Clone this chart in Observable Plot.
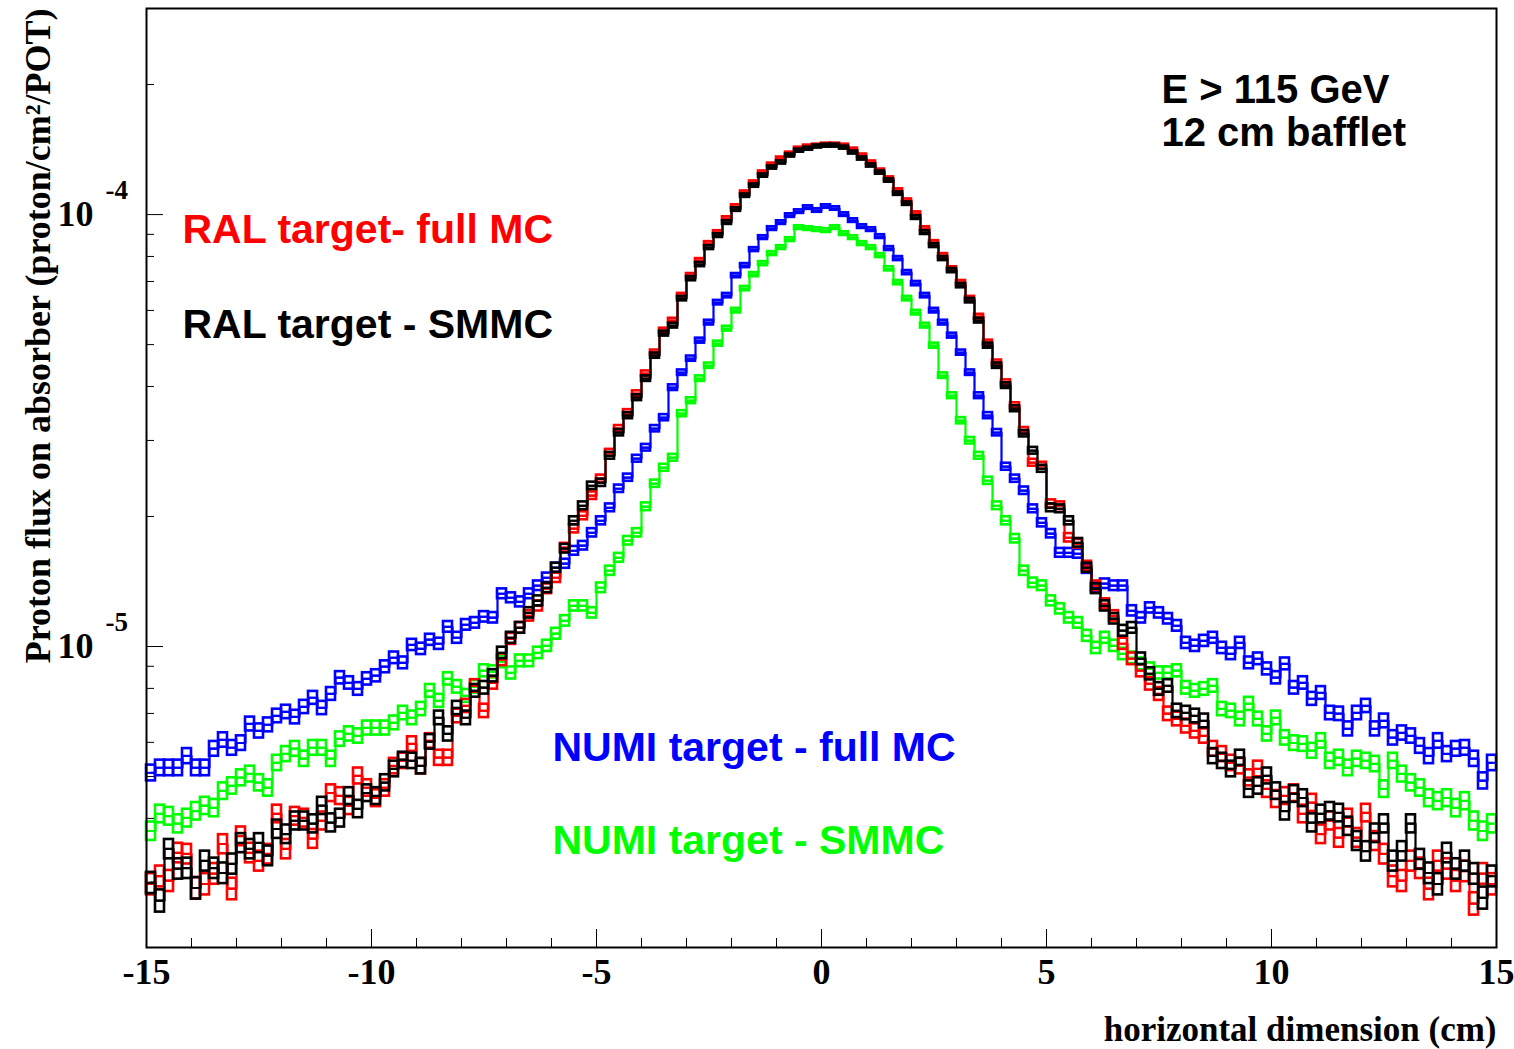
<!DOCTYPE html>
<html>
<head>
<meta charset="utf-8">
<script src="https://cdn.jsdelivr.net/npm/d3@7"></script>
<script src="https://cdn.jsdelivr.net/npm/@observablehq/plot@0.6"></script>
<style>
  html, body { margin: 0; padding: 0; background: #ffffff; }
  #chart { width: 1514px; height: 1049px; }
</style>
</head>
<body>
<div id="chart"></div>
<script>
// ---- Data (flux in units of 1e-6 proton/cm^2/POT), 150 bins of 0.2 cm from -15 to 15 cm ----
const fluxUnit = 1e-6;
const xMin = -15;
const binWidth = 0.2;

const ralFullMC = [
  2.82, 2.94, 2.87, 3.33, 3.31, 2.76, 2.82, 2.98, 3.49, 2.75, 3.64, 3.33, 3.19, 3.31, 4.10, 3.40, 4.05, 4.01, 3.59, 3.95,
  4.58, 4.51, 4.28, 5.02, 4.71, 4.46, 4.71, 5.29, 5.44, 5.95, 5.29, 6.05, 5.53, 5.53, 6.91, 7.29, 8.11, 7.10, 8.24, 9.32,
  10.42, 11.05,
  11.78, 12.42, 13.61, 14.43, 16.94, 18.74, 20.08, 22.35, 24.47, 28.10, 31.94, 34.79, 38.49, 42.83, 47.91, 53.87, 56.82, 64.93,
  72.23, 78.25, 85.68, 90.85, 97.9, 104.4, 112.4, 118.6, 125.1, 130.5, 134.8, 138.4, 142.1, 143.7, 144.4, 145.2, 145.2, 144.4,
  141.4, 137.0, 132.0, 126.4, 121.2, 113.7, 107.7, 100.5, 92.81, 86.14, 80.37, 74.9, 69.58, 63.90, 58.04, 50.53, 45.41, 40.82,
  36.10, 31.60, 26.64, 26.22, 21.41, 21.18, 17.86, 17.30, 15.38, 13.83, 12.56, 11.78, 10.15, 9.37, 8.79, 8.20, 7.77, 6.99,
  6.80, 6.55, 6.38, 6.21, 5.80, 5.64, 5.38, 5.29, 4.97, 5.21, 4.68, 4.44, 4.51, 4.58, 4.10, 4.35, 3.68, 3.95, 3.61, 4.01,
  3.61, 4.12, 3.55, 3.31, 2.94, 2.87, 3.19, 3.07, 2.75, 3.19, 3.06, 2.87, 3.02, 2.54, 2.98, 2.82
];

const ralSMMC = [
  2.84, 2.58, 3.40, 3.06, 3.07, 2.76, 3.19, 3.07, 2.99, 3.14, 3.51, 3.40, 3.51, 3.28, 3.78, 3.68, 3.95, 3.95, 3.89, 4.28,
  3.91, 4.01, 4.51, 4.21, 4.58, 4.51, 4.84, 5.21, 5.47, 5.44, 5.29, 6.02, 6.84, 6.28, 7.21, 6.84, 7.90, 8.03, 8.56, 9.67,
  10.48, 11.05,
  11.97, 12.76, 13.68, 15.22, 16.85, 19.55, 21.18, 23.56, 23.94, 27.65, 31.27, 34.24, 37.68, 41.71, 47.15, 53.02, 55.33, 63.90,
  71.08, 76.60, 83.87, 89.41, 95.82, 102.7, 110.6, 116.7, 123.1, 128.5, 132.0, 137.0, 140.6, 142.1, 143.7, 144.4, 144.4, 142.9,
  139.2, 134.8, 129.9, 125.1, 119.9, 111.8, 106.0, 98.4, 90.85, 84.77, 79.10, 74.18, 68.48, 63.21, 56.82, 49.73, 44.69, 40.18,
  35.53, 31.10, 28.40, 25.80, 20.95, 20.84, 19.55, 17.39, 15.22, 13.61, 12.42, 11.60, 10.88, 11.05, 9.37, 8.65, 7.98, 8.11,
  7.10, 7.02, 6.91, 6.73, 5.58, 5.44, 5.21, 5.53, 4.68, 4.76, 5.02, 4.63, 4.16, 4.56, 4.46, 3.91, 4.10, 4.16, 4.12, 3.84,
  3.55, 3.36, 3.70, 3.89, 3.19, 3.36, 3.89, 3.22, 2.99, 2.82, 3.33, 3.06, 3.19, 2.98, 2.62, 2.94
];

const numiFullMC = [
  5.10, 5.24, 5.24, 5.24, 5.58, 5.24, 5.24, 5.80, 6.08, 5.83, 5.98, 6.62, 6.38, 6.59, 6.91, 7.06, 6.87, 7.25, 7.61, 7.21,
  7.77, 8.47, 8.24, 7.98, 8.42, 8.56, 8.98, 9.42, 9.17, 10.09, 9.88, 10.37, 10.15, 11.11, 10.48, 11.23, 11.35, 11.72, 11.66, 13.25,
  12.97, 12.69,
  13.25, 13.83, 14.43, 15.22, 15.55, 16.66, 17.12, 18.34, 19.55, 20.95, 23.19, 24.60, 27.22, 28.86, 31.94, 33.87, 39.75, 43.06,
  46.40, 51.07, 56.22, 62.54, 64.93, 72.23, 76.19, 82.98, 88.46, 92.81, 95.82, 99.47, 101.6, 103.8, 102.2, 104.4, 103.3, 100.0,
  96.85, 93.80, 92.32, 88.93, 83.43, 79.10, 73.39, 69.22, 64.93, 59.93, 56.22, 52.45, 47.91, 43.06, 38.08, 34.24, 31.27, 26.08,
  24.47, 22.95, 20.84, 19.34, 18.25, 16.48, 16.48, 16.40, 15.14, 13.68, 13.98, 13.83, 13.83, 12.10, 11.66, 12.29, 11.97, 11.60,
  11.17, 10.20, 10.04, 10.31, 10.48, 9.93, 9.62, 10.20, 9.17, 9.37, 8.88, 8.47, 9.12, 8.03, 8.24, 7.57, 7.81, 7.02, 6.99, 6.45,
  7.02, 7.29, 6.45, 6.73, 6.15, 6.31, 6.21, 5.89, 5.58, 6.05, 5.64, 5.80, 5.83, 5.50, 4.89, 5.38
];

const numiSMMC = [
  3.74, 4.10, 4.05, 3.89, 4.01, 4.16, 4.28, 4.23, 4.63, 4.76, 4.97, 5.07, 4.84, 4.71, 5.38, 5.64, 5.80, 5.50, 5.83, 5.83,
  5.50, 6.11, 6.28, 6.21, 6.48, 6.48, 6.48, 6.66, 7.02, 6.84, 7.17, 7.90, 7.49, 8.42, 8.07, 7.69, 8.07, 8.79, 8.74, 9.22,
  8.69, 9.27,
  9.27, 9.67, 10.04, 10.71, 11.47, 12.42, 12.42, 11.97, 13.68, 14.98, 16.05, 17.58, 18.34, 21.07, 23.82, 25.94, 27.36, 34.60,
  37.08, 41.71, 44.69, 50.26, 54.45, 59.93, 67.40, 72.61, 77.01, 81.24, 83.87, 87.52, 93.31, 92.81, 92.32, 91.82, 93.31, 90.37,
  88.46, 85.68, 83.87, 80.37, 74.9, 69.58, 63.90, 59.29, 55.33, 49.73, 42.38, 38.08, 33.33, 29.96, 27.65, 24.20, 21.18, 19.55,
  17.77, 14.98, 14.05, 13.83, 12.76, 12.23, 11.66, 11.35, 10.59, 9.93, 10.48, 10.04, 9.62, 9.42, 9.12, 8.88, 8.69, 8.69,
  8.79, 8.03, 7.90, 7.98, 8.11, 7.17, 7.10, 6.80, 7.37, 6.80, 6.28, 6.84, 6.15, 5.98, 5.95, 5.74, 6.05, 5.44, 5.53, 5.24,
  5.50, 5.44, 5.35, 4.68, 5.44, 5.07, 4.84, 4.71, 4.46, 4.39, 4.46, 4.23, 4.39, 3.95, 3.74, 3.89
];

const seriesLabels = ["RAL target- full MC", "RAL target - SMMC", "NUMI target - full MC", "NUMI target - SMMC"];
const xTickValues = [-15, -10, -5, 0, 5, 10, 15];
const xMinorTicks = [-14, -13, -12, -11, -9, -8, -7, -6, -4, -3, -2, -1, 1, 2, 3, 4, 6, 7, 8, 9, 11, 12, 13, 14];
const yMajorTicks = [1e-5, 1e-4];
const yTickExponents = ["-5", "-4"];
const yMinorTicks = [3e-6, 4e-6, 5e-6, 6e-6, 7e-6, 8e-6, 9e-6, 2e-5, 3e-5, 4e-5, 5e-5, 6e-5, 7e-5, 8e-5, 9e-5, 2e-4, 3e-4];
const xTitle = "horizontal dimension (cm)";
const yTitle = "Proton flux on absorber (proton/cm\u00B2/POT)";
const infoLines = ["E > 115 GeV", "12 cm bafflet"];

// statistical error box half-height (relative), scaled from the bin content
const errScale = 0.095;

function rowsFor(vals) {
  return vals.map((v, i) => {
    const x1 = xMin + i * binWidth;
    const flux = v * fluxUnit;
    const e = errScale / Math.sqrt(v);
    return {x1, x2: x1 + binWidth, xc: x1 + binWidth / 2, v: flux, lo: flux * (1 - e), hi: flux * (1 + e)};
  });
}

const series = [
  {rows: rowsFor(numiSMMC), color: "#00ff00"},
  {rows: rowsFor(numiFullMC), color: "#0000ff"},
  {rows: rowsFor(ralFullMC), color: "#ff0000"},
  {rows: rowsFor(ralSMMC), color: "#000000"}
];

const W = 1514, H = 1049;
const mL = 146, mR = 18, mT = 8, mB = 102;
const frameW = W - mL - mR, frameH = H - mT - mB;

const serif = "'Liberation Serif', 'Times New Roman', serif";
const sans = "'Liberation Sans', Arial, Helvetica, sans-serif";

const marks = [];
for (const s of series) {
  marks.push(Plot.rect(s.rows, {x1: "x1", x2: "x2", y1: "lo", y2: "hi", fill: "none", stroke: s.color, strokeWidth: 2.6}));
  marks.push(Plot.ruleY(s.rows, {x1: "x1", x2: "x2", y: "v", stroke: s.color, strokeWidth: 2}));
  marks.push(Plot.line(s.rows, {x: "xc", y: "v", curve: "step", stroke: s.color, strokeWidth: 2.2}));
}

// ticks inside the frame (ROOT style)
marks.push(Plot.tickX(xMinorTicks, {x: d => d, insetTop: frameH - 9, stroke: "black", strokeWidth: 1}));
marks.push(Plot.tickX(xTickValues, {x: d => d, insetTop: frameH - 18, stroke: "black", strokeWidth: 1}));
marks.push(Plot.tickY(yMinorTicks, {y: d => d, insetRight: frameW - 8, stroke: "black", strokeWidth: 1}));
marks.push(Plot.tickY(yMajorTicks, {y: d => d, insetRight: frameW - 17, stroke: "black", strokeWidth: 1}));
marks.push(Plot.frame({stroke: "black", strokeWidth: 2}));

// tick labels
marks.push(Plot.text(xTickValues, {x: d => d, frameAnchor: "bottom", dy: 25, text: d => String(d),
  fontFamily: serif, fontWeight: "bold", fontSize: 36, lineAnchor: "middle", fill: "black"}));
marks.push(Plot.text(yMajorTicks, {y: d => d, frameAnchor: "left", dx: -53, text: () => "10", textAnchor: "end",
  fontFamily: serif, fontWeight: "bold", fontSize: 36, lineAnchor: "middle", fill: "black"}));
marks.push(Plot.text(yMajorTicks, {y: d => d, frameAnchor: "left", dx: -41, dy: -24, text: (d, i) => yTickExponents[i], textAnchor: "start",
  fontFamily: serif, fontWeight: "bold", fontSize: 27, lineAnchor: "middle", fill: "black"}));

// axis titles
marks.push(Plot.text([xTitle], {frameAnchor: "bottom-right", dy: 82, text: d => d, textAnchor: "end",
  fontFamily: serif, fontWeight: "bold", fontSize: 35, lineAnchor: "middle", fill: "black"}));
marks.push(Plot.text([yTitle], {frameAnchor: "top-left", dx: -108, dy: 0, rotate: -90, text: d => d, textAnchor: "end",
  fontFamily: serif, fontWeight: "bold", fontSize: 36, lineAnchor: "middle", fill: "black"}));

// in-frame labels
const labelStyle = {fontFamily: sans, fontWeight: "bold", fontSize: 41, textAnchor: "start", lineAnchor: "bottom", frameAnchor: "top-left"};
marks.push(Plot.text([seriesLabels[0]], {...labelStyle, text: d => d, dx: 36, dy: 234, fill: "#ff0000"}));
marks.push(Plot.text([seriesLabels[1]], {...labelStyle, text: d => d, dx: 36, dy: 329, fill: "#000000"}));
marks.push(Plot.text([seriesLabels[2]], {...labelStyle, text: d => d, dx: 406, dy: 752, fill: "#0000ff"}));
marks.push(Plot.text([seriesLabels[3]], {...labelStyle, text: d => d, dx: 406, dy: 845, fill: "#00ff00"}));
marks.push(Plot.text([infoLines[0]], {...labelStyle, text: d => d, dx: 1015, dy: 94, fontSize: 40, fill: "#000000"}));
marks.push(Plot.text([infoLines[1]], {...labelStyle, text: d => d, dx: 1015, dy: 137, fontSize: 40, fill: "#000000"}));

const chart = Plot.plot({
  width: W,
  height: H,
  marginLeft: mL,
  marginRight: mR,
  marginTop: mT,
  marginBottom: mB,
  style: {background: "#ffffff", overflow: "visible"},
  x: {domain: [-15, 15], axis: null},
  y: {type: "log", domain: [2.01e-6, 3.0e-4], axis: null},
  marks
});
document.getElementById("chart").appendChild(chart);
</script>
</body>
</html>
